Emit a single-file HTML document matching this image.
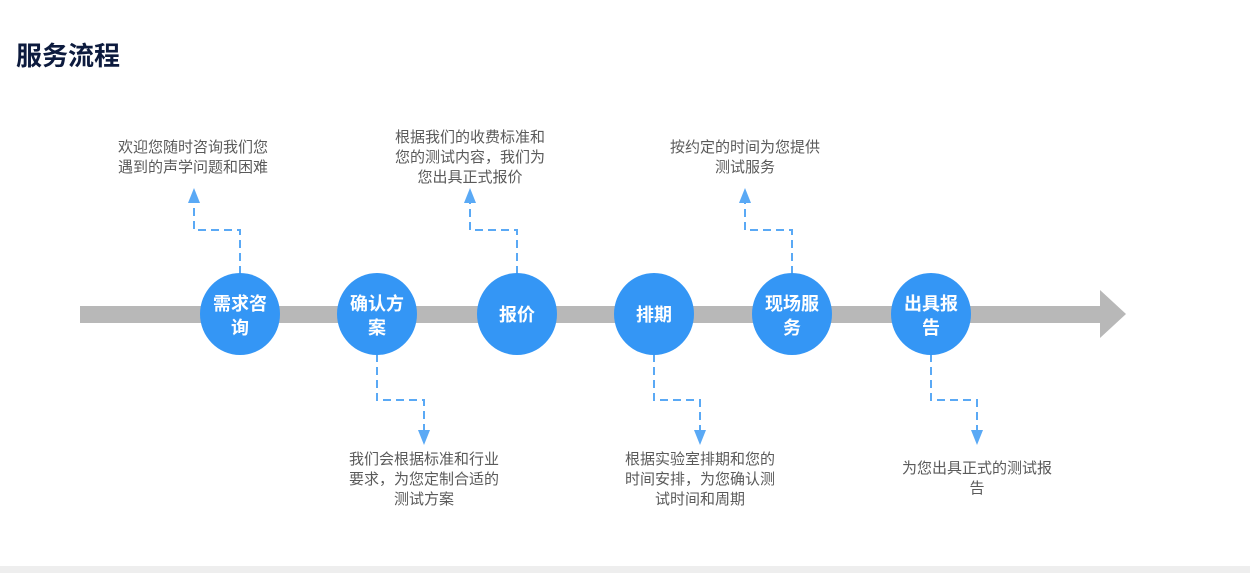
<!DOCTYPE html>
<html><head><meta charset="utf-8"><style>
html,body{margin:0;padding:0;background:#fff;width:1250px;height:573px;overflow:hidden}
svg{display:block}
text{font-family:"Liberation Sans","Noto Sans CJK SC",sans-serif}
.d{fill:none;stroke:#5aa9f5;stroke-width:2;stroke-dasharray:8,5}
.t{fill:#5a5a5a;font-size:15px;text-anchor:middle}
.c{fill:#fff;font-size:18px;font-weight:bold;text-anchor:middle}
</style></head><body>
<svg width="1250" height="573" viewBox="0 0 1250 573">
<rect x="0" y="566" width="1250" height="7" fill="#eeeeee"/>
<text x="16" y="65" font-size="26" font-weight="bold" fill="#0d1b3e">服务流程</text>
<rect x="80" y="306" width="1022" height="17" fill="#b8b8b8"/>
<polygon points="1100,290 1126,314 1100,338" fill="#b8b8b8"/>
<path class="d" d="M240,274 V230 H194 V200"/><polygon points="188,203 194,188 200,203" fill="#5aa9f5"/>
<path class="d" d="M517,274 V230 H470 V200"/><polygon points="464,203 470,188 476,203" fill="#5aa9f5"/>
<path class="d" d="M792,274 V230 H745 V200"/><polygon points="739,203 745,188 751,203" fill="#5aa9f5"/>
<path class="d" d="M377,354 V400 H424 V430"/><polygon points="418,430 424,445 430,430" fill="#5aa9f5"/>
<path class="d" d="M654,354 V400 H700 V430"/><polygon points="694,430 700,445 706,430" fill="#5aa9f5"/>
<path class="d" d="M931,354 V400 H977 V430"/><polygon points="971,430 977,445 983,430" fill="#5aa9f5"/>
<g fill="#3496f5">
<ellipse cx="240" cy="314" rx="40" ry="41"/>
<ellipse cx="377" cy="314" rx="40" ry="41"/>
<ellipse cx="517" cy="314" rx="40" ry="41"/>
<ellipse cx="654" cy="314" rx="40" ry="41"/>
<ellipse cx="792" cy="314" rx="40" ry="41"/>
<ellipse cx="931" cy="314" rx="40" ry="41"/>
</g>
<text class="c" x="240" y="310">需求咨</text><text class="c" x="240" y="334">询</text>
<text class="c" x="377" y="310">确认方</text><text class="c" x="377" y="334">案</text>
<text class="c" x="517" y="321">报价</text>
<text class="c" x="654" y="321">排期</text>
<text class="c" x="792" y="310">现场服</text><text class="c" x="792" y="334">务</text>
<text class="c" x="931" y="310">出具报</text><text class="c" x="931" y="334">告</text>
<text class="t" x="193" y="152">欢迎您随时咨询我们您</text><text class="t" x="193" y="172">遇到的声学问题和困难</text>
<text class="t" x="470" y="142">根据我们的收费标准和</text><text class="t" x="470" y="162">您的测试内容，我们为</text><text class="t" x="470" y="182">您出具正式报价</text>
<text class="t" x="745" y="152">按约定的时间为您提供</text><text class="t" x="745" y="172">测试服务</text>
<text class="t" x="424" y="464">我们会根据标准和行业</text><text class="t" x="424" y="484">要求，为您定制合适的</text><text class="t" x="424" y="504">测试方案</text>
<text class="t" x="700" y="464">根据实验室排期和您的</text><text class="t" x="700" y="484">时间安排，为您确认测</text><text class="t" x="700" y="504">试时间和周期</text>
<text class="t" x="977" y="473">为您出具正式的测试报</text><text class="t" x="977" y="493">告</text>
</svg>
</body></html>
